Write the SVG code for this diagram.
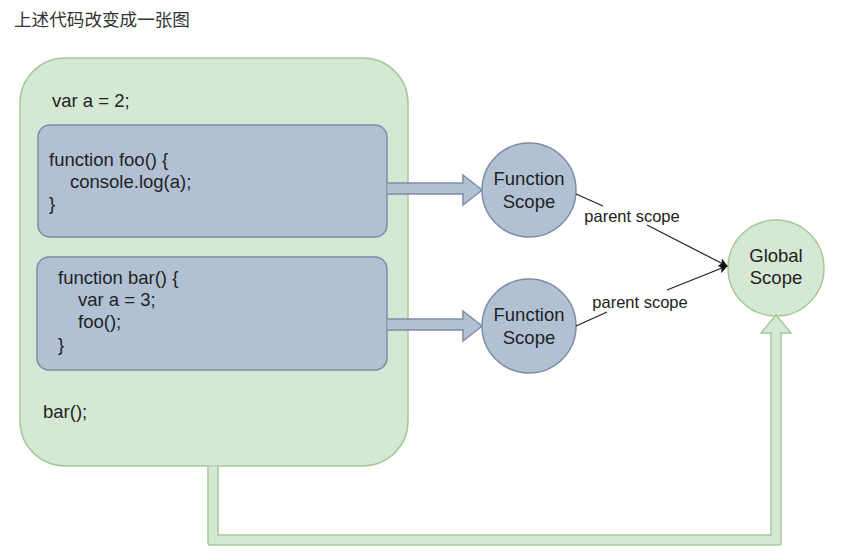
<svg xmlns="http://www.w3.org/2000/svg" width="865" height="557" viewBox="0 0 865 557">
<defs>
<style>
text{font-family:"Liberation Sans",Arial,"Noto Sans CJK SC",sans-serif;fill:#222;}
.code{font-size:18.5px;}
.lbl{font-size:18.5px;text-anchor:middle;}
.edge{font-size:16.5px;text-anchor:middle;}
.green{fill:#d5e8d4;stroke:#a6c79a;stroke-width:1.5;}
.blue{fill:#b2c0d4;stroke:#7d8da5;stroke-width:1.5;}
.line{stroke:#222;stroke-width:1.2;fill:none;}
</style>
<marker id="ah" viewBox="0 0 10 10" refX="9" refY="5" markerWidth="9" markerHeight="9" markerUnits="userSpaceOnUse" orient="auto">
<path d="M0,0 L10,5 L0,10 L2.5,5 Z" fill="#111"/>
</marker>
</defs>
<rect width="865" height="557" fill="#fff"/>
<text x="14" y="26" style="font-size:17.6px;fill:#333">上述代码改变成一张图</text>

<g id="global-box">
<rect class="green" x="20" y="58" width="388" height="408" rx="45" ry="45"/>
<text class="code" x="52" y="107">var a = 2;</text>
<text class="code" x="43" y="418">bar();</text>
</g>

<g id="foo-box">
<rect class="blue" x="38" y="125" width="349" height="112" rx="12" ry="12"/>
<text class="code" x="49" y="166">function foo() {</text>
<text class="code" x="70" y="188">console.log(a);</text>
<text class="code" x="49" y="210">}</text>
</g>

<g id="bar-box">
<rect class="blue" x="37" y="257" width="350" height="113" rx="12" ry="12"/>
<text class="code" x="58" y="284">function bar() {</text>
<text class="code" x="78" y="306">var a = 3;</text>
<text class="code" x="78" y="328">foo();</text>
<text class="code" x="58" y="351">}</text>
</g>

<g id="foo-scope">
<circle class="blue" cx="529" cy="190" r="47"/>
<text class="lbl" x="529" y="185">Function</text>
<text class="lbl" x="529" y="208">Scope</text>
</g>

<g id="bar-scope">
<circle class="blue" cx="529" cy="326" r="47"/>
<text class="lbl" x="529" y="321">Function</text>
<text class="lbl" x="529" y="344">Scope</text>
</g>

<g id="global-scope">
<circle class="green" cx="776" cy="268" r="48"/>
<text class="lbl" x="776" y="262">Global</text>
<text class="lbl" x="776" y="284">Scope</text>
</g>

<g id="connectors">
<path class="green" d="M208,466.5 L208,543 Q208,545 210,545 L779,545 Q781,545 781,543 L781,333 L791,333 L776,315 L761,333 L771,333 L771,535 L218,535 L218,466.5"/>
<path class="blue" d="M387.5,183 L463,183 L463,175 L482,190 L463,205 L463,194 L387.5,194"/>
<path class="blue" d="M387.5,319 L463,319 L463,311 L482,326 L463,341 L463,330 L387.5,330"/>
<line class="line" x1="576" y1="194" x2="603" y2="206"/>
<line class="line" x1="647" y1="225" x2="727" y2="266" marker-end="url(#ah)"/>
<line class="line" x1="576" y1="326" x2="607" y2="312"/>
<line class="line" x1="667" y1="290" x2="727" y2="266" marker-end="url(#ah)"/>
<text class="edge" x="632" y="222">parent scope</text>
<text class="edge" x="640" y="308">parent scope</text>
</g>
</svg>
